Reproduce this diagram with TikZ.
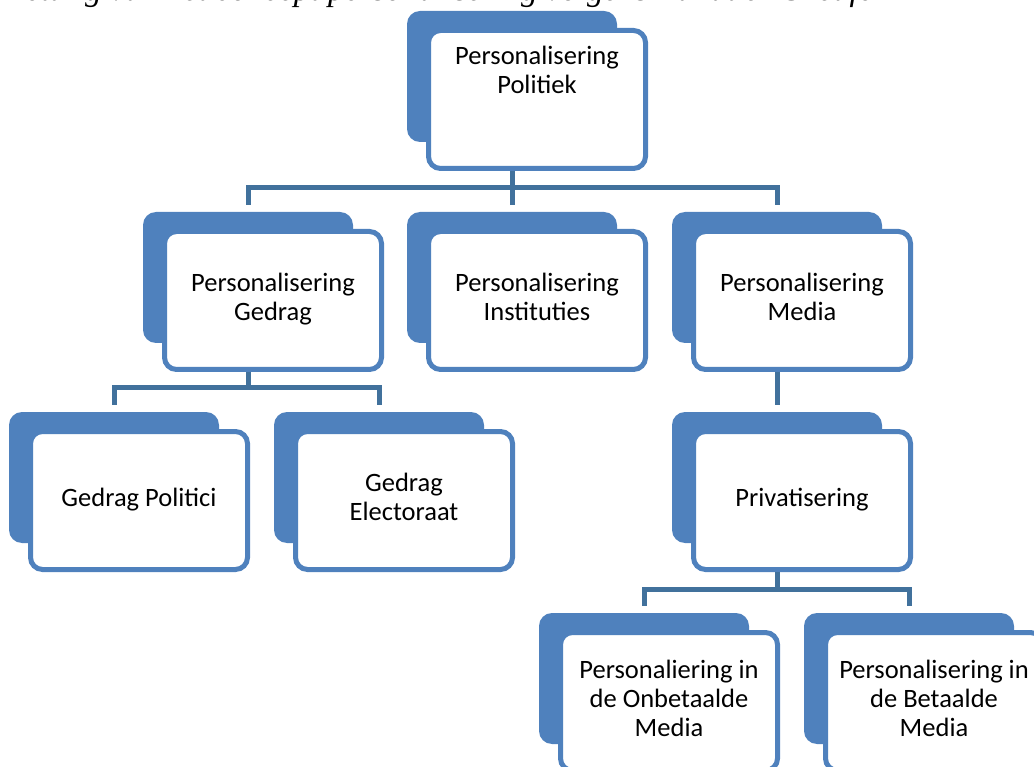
\documentclass[tikz,border=0pt]{standalone}
\usepackage{fontspec}
\newfontfamily\boxfont{Carlito}
\newfontfamily\capfont{Liberation Serif}
\definecolor{boxblue}{HTML}{4F81BD}
\definecolor{linkblue}{HTML}{41719C}
\tikzset{
  backbox/.style={draw=none, fill=boxblue, rounded corners=13pt, minimum width=210pt, minimum height=131pt, inner sep=0pt},
  frontbox/.style={draw=boxblue, fill=white, line width=5pt, rounded corners=12pt, minimum width=217pt, minimum height=138pt, align=center, inner sep=0pt, font=\boxfont\fontsize{26.5}{29}\selectfont},
  conn/.style={draw=linkblue, line width=5pt},
  captext/.style={anchor=base west, inner sep=0pt, font=\capfont\itshape\fontsize{33.4}{40}\selectfont}
}
\begin{document}
\begin{tikzpicture}[x=1pt,y=-1pt]
\useasboundingbox (0,0) rectangle (1034,767);
\node[captext] (cap) at (7,1) {Zetting van het concept personalisering volgens Rahat en Sheafer};

\node[backbox] (b1) at (512,76.5) {};
\node[frontbox] (f1) at (537,99.5) {\strut Personalisering\\Politiek\\[23.6pt]\strut};

\node[backbox] (b2) at (248,277.5) {};
\node[frontbox] (f2) at (273,300.5) {\strut Personalisering\\Gedrag\strut};
\node[backbox] (b3) at (512,277.5) {};
\node[frontbox] (f3) at (537,300.5) {\strut Personalisering\\Instituties\strut};
\node[backbox] (b4) at (777,277.5) {};
\node[frontbox] (f4) at (802,300.5) {\strut Personalisering\\Media\strut};

\node[backbox] (b5) at (114,477.5) {};
\node[frontbox] (f5) at (139,500.5) {\strut Gedrag Politici\strut};
\node[backbox] (b6) at (379,477.5) {};
\node[frontbox] (f6) at (404,500.5) {\strut Gedrag\\Electoraat\strut};
\node[backbox] (b7) at (777,477.5) {};
\node[frontbox] (f7) at (802,500.5) {\strut Privatisering\strut};

\node[backbox] (b8) at (644,678.5) {};
\node[frontbox] (f8) at (669,701.5) {\strut Personaliering in\\de Onbetaalde\\Media\strut};
\node[backbox] (b9) at (909,678.5) {};
\node[frontbox] (f9) at (934,701.5) {\strut Personalisering in\\de Betaalde\\Media\strut};

\coordinate (j1) at (512,187.5);
\coordinate (j2) at (248,388);
\coordinate (j3) at (777,589.5);

\draw[conn] (f1.south -| b1.south) -- (j1);
\draw[conn, shorten >=7pt] (j1) -| (b2.north);
\draw[conn, shorten >=7pt] (j1) -- (b3.north);
\draw[conn, shorten >=7pt] (j1) -| (b4.north);

\draw[conn] (f2.south -| b2.south) -- (j2);
\draw[conn, shorten >=7pt] (j2) -| (b5.north);
\draw[conn, shorten >=7pt] (j2) -| (b6.north);

\draw[conn, shorten >=7pt] (f4.south -| b4.south) -- (b7.north);

\draw[conn] (f7.south -| b7.south) -- (j3);
\draw[conn, shorten >=7pt] (j3) -| (b8.north);
\draw[conn, shorten >=7pt] (j3) -| (b9.north);
\end{tikzpicture}
\end{document}
